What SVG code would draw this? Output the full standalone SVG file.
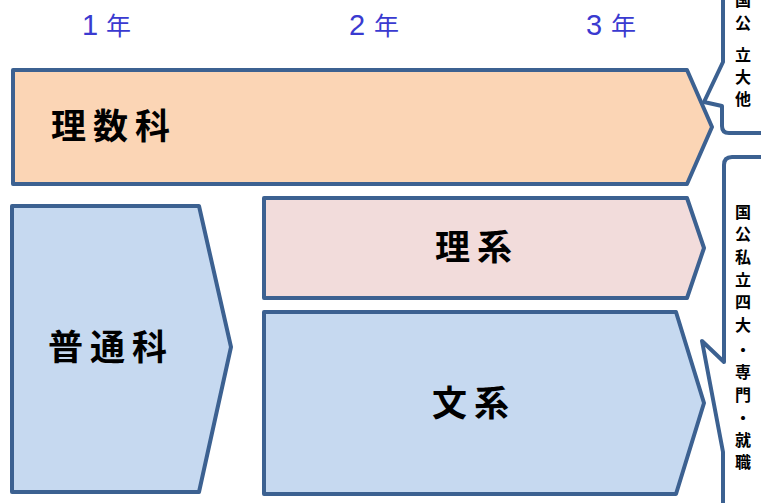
<svg xmlns="http://www.w3.org/2000/svg" width="761" height="503" viewBox="0 0 761 503">
<style>
.shape{stroke:#3c6191;stroke-width:4;stroke-linejoin:round}
.peach{fill:#fbd5b5}
.pink{fill:#f2dcdb}
.blue{fill:#c6d9f0}
.callout{fill:#ffffff}
.lbl{font-family:"Noto Sans CJK JP","Noto Sans CJK SC",sans-serif;font-weight:bold;font-size:35px;fill:#000;letter-spacing:7px}
.yr{font-family:"Noto Sans CJK JP","Noto Sans CJK SC",sans-serif;font-size:25px;fill:#3a3ad0}
.dg{font-family:"Liberation Sans",sans-serif;font-size:29px}
.vt{font-family:"Noto Sans CJK JP","Noto Sans CJK SC",sans-serif;font-weight:bold;font-size:16px;fill:#000;text-anchor:middle}
</style>
<rect width="761" height="503" fill="#ffffff"/>
<g id="years">
<text class="yr" x="82" y="35"><tspan class="dg">1</tspan><tspan x="106">年</tspan></text>
<text class="yr" x="349" y="35"><tspan class="dg">2</tspan><tspan x="374">年</tspan></text>
<text class="yr" x="586" y="35"><tspan class="dg">3</tspan><tspan x="611">年</tspan></text>
</g>
<g id="risuka">
<path class="shape peach" d="M13,70 L687,70 L712,127 L687,184 L13,184 Z"/>
<text class="lbl" x="51" y="139">理数科</text>
</g>
<g id="futsuka">
<path class="shape blue" d="M12,206 L199,206 L231,347 L199,492 L12,492 Z"/>
<text class="lbl" x="48" y="360">普通科</text>
</g>
<g id="rikei">
<path class="shape pink" d="M264,198 L687,198 L704,248 L687,298 L264,298 Z"/>
<text class="lbl" x="435" y="260">理系</text>
</g>
<g id="bunkei">
<path class="shape blue" d="M264,312 L676,312 L704,403 L676,494 L264,494 Z"/>
<text class="lbl" x="432" y="416">文系</text>
</g>
<g id="callout-top">
<path class="shape callout" d="M770,-6 L723,-6 L723,62 L704,102 L722,106 L722,126 Q722,133 729,133 L770,133 Z"/>
<text class="vt"><tspan x="743" y="6">国</tspan><tspan x="743" y="29">公</tspan><tspan x="743" y="61">立</tspan><tspan x="743" y="83">大</tspan><tspan x="743" y="105">他</tspan></text>
</g>
<g id="callout-bottom">
<path class="shape callout" d="M770,157 L732,157 Q724,157 724,165 L724,362 L702,341 L723,452 L723,510 L770,510 Z"/>
<text class="vt"><tspan x="743" y="218">国</tspan><tspan x="743" y="240">公</tspan><tspan x="743" y="263">私</tspan><tspan x="743" y="286">立</tspan><tspan x="743" y="308">四</tspan><tspan x="743" y="331">大</tspan><tspan x="743" y="356">・</tspan><tspan x="743" y="378">専</tspan><tspan x="743" y="401">門</tspan><tspan x="743" y="424">・</tspan><tspan x="743" y="446">就</tspan><tspan x="743" y="468">職</tspan></text>
</g>
<g id="connectors"></g>
</svg>
